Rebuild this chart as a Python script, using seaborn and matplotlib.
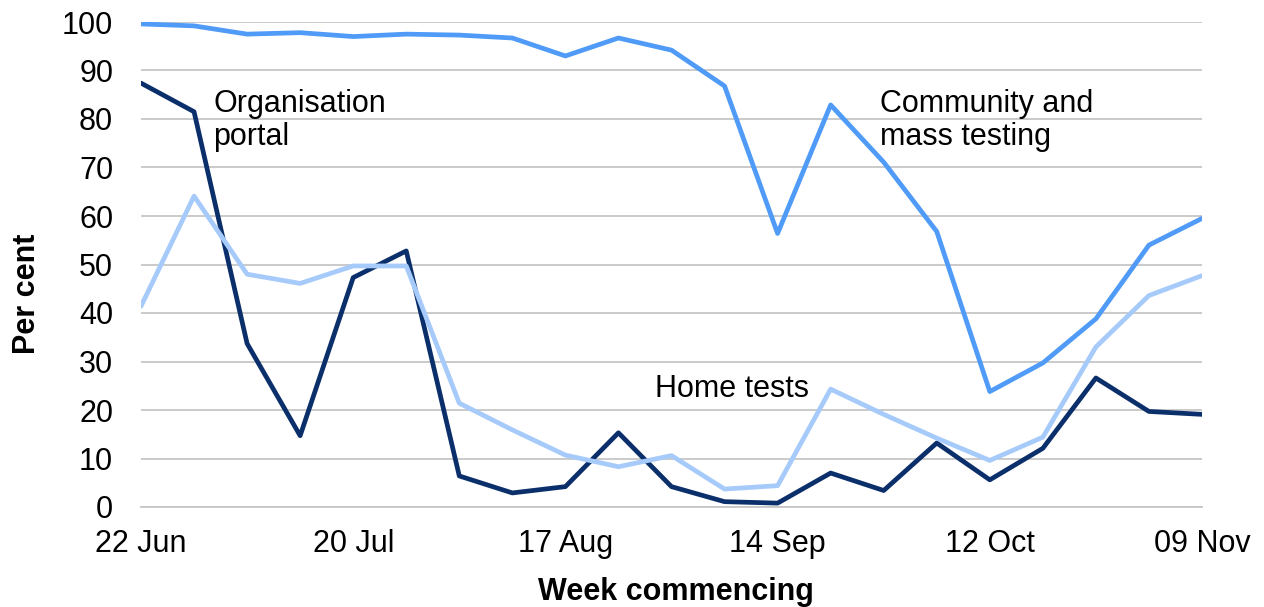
import matplotlib
matplotlib.use("Agg")
import matplotlib.pyplot as plt
import seaborn as sns
import pandas as pd
import numpy as np

weeks = ["22 Jun", "29 Jun", "06 Jul", "13 Jul", "20 Jul", "27 Jul", "03 Aug",
         "10 Aug", "17 Aug", "24 Aug", "31 Aug", "07 Sep", "14 Sep", "21 Sep",
         "28 Sep", "05 Oct", "12 Oct", "19 Oct", "26 Oct", "02 Nov", "09 Nov"]
community = [99.6, 99.2, 97.5, 97.8, 97.0, 97.5, 97.3, 96.7, 93.0, 96.7, 94.2,
             86.8, 56.4, 82.9, 71.1, 56.8, 23.8, 29.7, 38.8, 54.0, 59.5]
organisation = [87.4, 81.5, 33.7, 14.7, 47.3, 52.8, 6.4, 2.9, 4.2, 15.3, 4.2,
                1.1, 0.8, 7.0, 3.4, 13.2, 5.6, 12.1, 26.6, 19.7, 19.1]
home = [41.4, 64.1, 48.0, 46.1, 49.7, 49.7, 21.4, 15.9, 10.7, 8.3, 10.6,
        3.7, 4.4, 24.3, 19.1, 14.2, 9.6, 14.4, 33.0, 43.6, 47.7]
series_names = ["Community and mass testing", "Organisation portal", "Home tests"]
colors = ["#4f9bf7", "#0b2f6a", "#a6cbfb"]
tick_idx = [0, 4, 8, 12, 16, 20]

df = pd.DataFrame({
    "week": np.tile(np.arange(len(weeks)), 3),
    "value": community + organisation + home,
    "series": np.repeat(series_names, len(weeks)),
})

sns.set_theme(style="white")
plt.rcParams["font.family"] = ["Liberation Sans", "DejaVu Sans"]

fig = plt.figure(figsize=(12.64, 6.07), dpi=100)
ax = fig.add_axes([141/1264, 1 - 507/607, (1202-141)/1264, (507-22)/607])

sns.lineplot(data=df, x="week", y="value", hue="series", hue_order=series_names,
             palette=colors, linewidth=3.4, ax=ax, legend=False, zorder=3)

ax.set_xlim(0, len(weeks) - 1)
ax.set_ylim(0, 100)
ax.set_yticks(range(0, 101, 10))
ax.yaxis.grid(True, color="#c6c6c6", linewidth=1.3, zorder=0)
ax.xaxis.grid(False)
ax.set_xticks(tick_idx)
ax.set_xticklabels([weeks[i] for i in tick_idx])
for s in ["top", "right", "left"]:
    ax.spines[s].set_visible(False)
ax.spines["bottom"].set_color("#c6c6c6")
ax.spines["bottom"].set_linewidth(1.3)
ax.tick_params(axis="x", length=7, width=1.3, color="#c6c6c6", direction="out",
               labelsize=22, pad=9, labelcolor="black")
ax.tick_params(axis="y", length=0, labelsize=22, pad=20, labelcolor="black")

ax.set_xlabel("Week commencing", fontsize=22, fontweight="bold", color="black")
ax.set_ylabel("Per cent", fontsize=22, fontweight="bold", color="black")
ax.yaxis.set_label_coords(-0.0935, 0.44)
ax.xaxis.set_label_coords(0.504, -0.145)
ax.xaxis.label.set_va("top")

ax.text(1.36, 86.2, "Organisation\nportal", fontsize=22, va="top", ha="left",
        linespacing=1.13, color="black")
ax.text(13.93, 86.2, "Community and\nmass testing", fontsize=22, va="top", ha="left",
        linespacing=1.13, color="black")
ax.text(9.69, 24.3, "Home tests", fontsize=22, va="center", ha="left", color="black")

fig.savefig("out.png", dpi=100)
